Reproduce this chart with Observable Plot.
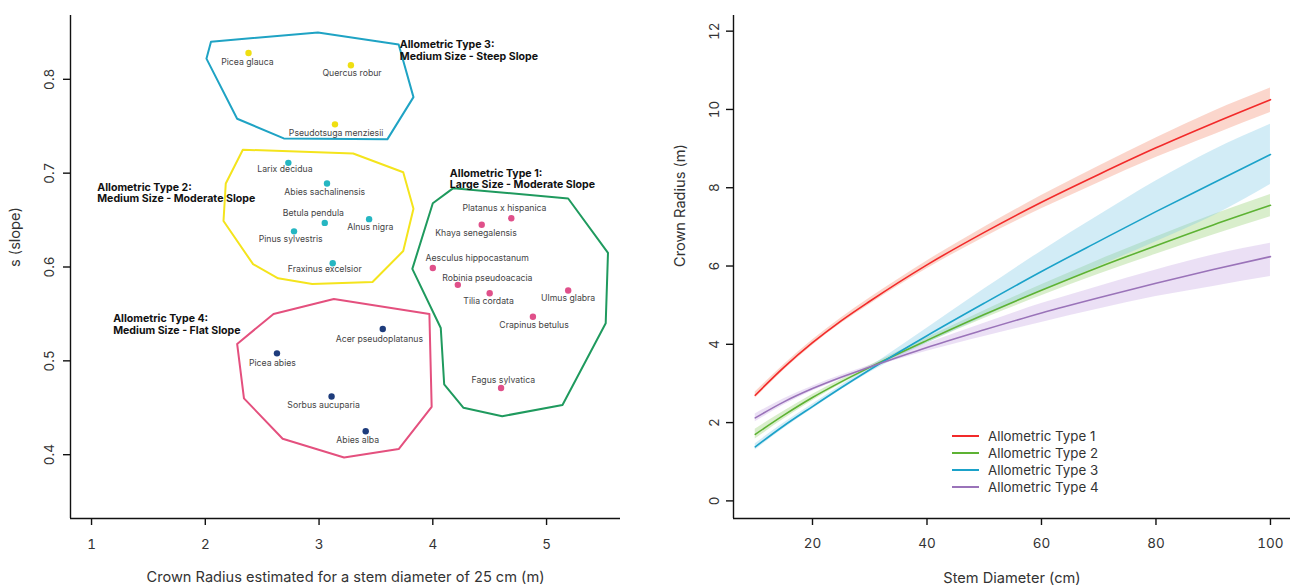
<!DOCTYPE html>
<html><head><meta charset="utf-8">
<script src="https://cdn.jsdelivr.net/npm/d3@7"></script>
<script src="https://cdn.jsdelivr.net/npm/@observablehq/plot@0.6"></script>
<style>
body{margin:0;background:#fff;font-family:Inter, "Liberation Sans", sans-serif;}
#wrap{position:relative;width:1292px;height:588px;display:flex;overflow:hidden;}
#legend{position:absolute;left:952px;top:427px;font-size:13.3px;color:#333;}
#legend .row{display:flex;align-items:center;height:17px;}
#legend svg{margin-right:9px;}
</style></head><body>
<div id="wrap"><div id="left"></div><div id="right"></div><div id="legend"></div></div>
<script>
// ---------- Left panel data ----------
const species = ["Picea glauca","Quercus robur","Pseudotsuga menziesii",
  "Larix decidua","Abies sachalinensis","Betula pendula","Alnus nigra","Pinus sylvestris","Fraxinus excelsior",
  "Platanus x hispanica","Khaya senegalensis","Aesculus hippocastanum","Robinia pseudoacacia","Tilia cordata","Ulmus glabra","Crapinus betulus","Fagus sylvatica",
  "Acer pseudoplatanus","Picea abies","Sorbus aucuparia","Abies alba"];
const speciesType = [3,3,3, 2,2,2,2,2,2, 1,1,1,1,1,1,1,1, 4,4,4,4];
const crown25 = [2.38,3.28,3.14, 2.73,3.07,3.05,3.44,2.78,3.12, 4.69,4.43,4.00,4.22,4.50,5.19,4.88,4.60, 3.56,2.63,3.11,3.41];
const slope   = [0.828,0.815,0.752, 0.711,0.689,0.647,0.651,0.638,0.604, 0.652,0.645,0.599,0.581,0.572,0.575,0.547,0.471, 0.534,0.508,0.462,0.425];
const labelCrown = [2.37,3.29,3.15, 2.70,3.05,2.95,3.45,2.75,3.05, 4.63,4.38,4.39,4.48,4.49,5.19,4.89,4.62, 3.53,2.59,3.04,3.34];
const labelSlope = [0.818,0.807,0.743, 0.704,0.680,0.657,0.642,0.630,0.598, 0.663,0.636,0.609,0.588,0.564,0.567,0.538,0.479, 0.523,0.498,0.453,0.415];

const hull1X = [4.00,4.18,5.19,5.54,5.52,5.14,4.61,4.27,4.10,4.07,3.82];
const hull1Y = [0.668,0.684,0.673,0.615,0.540,0.453,0.441,0.450,0.475,0.535,0.598];
const hull2X = [2.33,3.30,3.74,3.83,3.74,3.47,2.94,2.64,2.42,2.16,2.18];
const hull2Y = [0.725,0.721,0.701,0.662,0.617,0.584,0.582,0.588,0.603,0.649,0.689];
const hull3X = [2.05,2.99,3.70,3.83,3.60,2.69,2.28,2.01];
const hull3Y = [0.840,0.850,0.837,0.781,0.736,0.737,0.758,0.822];
const hull4X = [2.60,3.13,3.97,3.99,3.70,3.22,2.68,2.34,2.28];
const hull4Y = [0.550,0.566,0.550,0.451,0.406,0.397,0.417,0.460,0.518];

const groupTitles = ["Allometric Type 1:\nLarge Size - Moderate Slope","Allometric Type 2:\nMedium Size - Moderate Slope","Allometric Type 3:\nMedium Size - Steep Slope","Allometric Type 4:\nMedium Size - Flat Slope"];
const groupTitleX = [4.15,1.05,3.71,1.19];
const groupTitleY = [0.694,0.679,0.831,0.539];

const xTicksLeft = [1,2,3,4,5];
const yTicksLeft = [0.4,0.5,0.6,0.7,0.8];

// ---------- Right panel data ----------
const diameters = [10,15,20,25,30,40,50,60,70,80,90,100];
const type1Mean = [2.70,3.41,4.04,4.60,5.10,6.03,6.86,7.63,8.34,9.02,9.65,10.25];
const type1Lo   = [2.62,3.34,3.97,4.53,5.02,5.93,6.73,7.46,8.13,8.77,9.35,9.92];
const type1Hi   = [2.78,3.48,4.11,4.67,5.18,6.13,6.99,7.80,8.55,9.27,9.95,10.55];
const type2Mean = [1.70,2.19,2.64,3.04,3.41,4.10,4.76,5.38,5.97,6.52,7.05,7.55];
const type2Lo   = [1.58,2.09,2.56,2.98,3.36,4.03,4.66,5.24,5.79,6.30,6.79,7.26];
const type2Hi   = [1.83,2.29,2.72,3.10,3.46,4.17,4.86,5.52,6.15,6.74,7.31,7.83];
const type3Mean = [1.38,1.92,2.41,2.89,3.35,4.22,5.05,5.86,6.63,7.39,8.12,8.85];
const type3Lo   = [1.30,1.85,2.35,2.83,3.28,4.03,4.70,5.36,5.99,6.62,7.28,8.08];
const type3Hi   = [1.46,1.99,2.47,2.95,3.42,4.41,5.41,6.38,7.29,8.17,8.96,9.62];
const type4Mean = [2.12,2.53,2.87,3.16,3.42,3.92,4.37,4.80,5.19,5.56,5.91,6.24];
const type4Lo   = [2.02,2.45,2.81,3.11,3.38,3.82,4.20,4.56,4.90,5.22,5.48,5.73];
const type4Hi   = [2.22,2.61,2.93,3.21,3.46,4.02,4.54,5.04,5.48,5.90,6.28,6.58];

const typeNames = ["Allometric Type 1","Allometric Type 2","Allometric Type 3","Allometric Type 4"];
const xTicksRight = [20,40,60,80,100];
const yTicksRight = [0,2,4,6,8,10,12];

// ---------- styles ----------
const hullColors  = {1:"#1f9a5e", 2:"#f4e41c", 3:"#1fa3c4", 4:"#e4507e"};
const pointColors = {1:"#e0508a", 2:"#25b6c2", 3:"#efdf12", 4:"#1e3c7c"};
const lineColors  = ["#f22a2a","#5db233","#1ba2c9","#9a73b9"];
const bandColors  = ["#f48a6e","#93cf6e","#7ec8e6","#c6a5e2"];
const font = "Inter, 'Liberation Sans', sans-serif";

// ---------- build left ----------
const pts = species.map((s,i)=>({name:s, type:speciesType[i], x:crown25[i], y:slope[i], lx:labelCrown[i], ly:labelSlope[i]}));
const hulls = [[hull1X,hull1Y,1],[hull2X,hull2Y,2],[hull3X,hull3Y,3],[hull4X,hull4Y,4]]
  .flatMap(([xs,ys,t])=>xs.map((x,i)=>({type:t, x, y:ys[i]})));
const titles = groupTitles.map((t,i)=>({t, x:groupTitleX[i], y:groupTitleY[i]}));

const lxMin = 0.815, lxMax = 5.65, lyMin = 0.332, lyMax = 0.868;
const left = Plot.plot({
  width: 640, height: 588,
  marginLeft: 70, marginRight: 20, marginTop: 15, marginBottom: 70,
  style: {fontFamily: font, background: "white", color: "#333"},
  x: {domain: [lxMin, lxMax]},
  y: {domain: [lyMin, lyMax]},
  marks: [
    Plot.line(hulls, {x:"x", y:"y", z:"type", stroke: d=>hullColors[d.type], strokeWidth: 2, curve: "linear-closed"}),
    Plot.dot(pts, {x:"x", y:"y", r: 3.2, fill: d=>pointColors[d.type], stroke: "none"}),
    Plot.text(pts, {x:"lx", y:"ly", text:"name", fontSize: 8.7, fill: "#444"}),
    Plot.text(titles, {x:"x", y:"y", text:"t", textAnchor:"start", lineAnchor:"middle", fontSize: 10.6, fontWeight: "bold", fill:"#111", lineHeight: 1.1}),
    Plot.ruleX([lxMin], {stroke:"#111", strokeWidth: 1.4}),
    Plot.ruleY([lyMin], {stroke:"#111", strokeWidth: 1.4}),
    Plot.axisX({ticks: xTicksLeft, tickFormat: d3.format("d"), tickSize: 7, tickPadding: 14, fontSize: 13.5, strokeWidth: 1.4, stroke:"#111", label: null}),
    Plot.axisY({ticks: yTicksLeft, tickFormat: d3.format(".1f"), tickSize: 7, tickPadding: 10, tickRotate: -90, fontSize: 13.5, strokeWidth: 1.4, stroke:"#111", label: null}),
    Plot.text(["Crown Radius estimated for a stem diameter of 25 cm (m)"], {frameAnchor:"bottom", dy: 63, fontSize: 14.6, fill:"#333"}),
    Plot.text(["s (slope)"], {frameAnchor:"left", dx: -55, rotate: -90, fontSize: 14.6, fill:"#333"})
  ]
});
document.getElementById("left").appendChild(left);

// ---------- build right ----------
const means = [type1Mean,type2Mean,type3Mean,type4Mean];
const los = [type1Lo,type2Lo,type3Lo,type4Lo];
const his = [type1Hi,type2Hi,type3Hi,type4Hi];
const rows = typeNames.flatMap((n,k)=>diameters.map((d,i)=>({type:n, d, m:means[k][i], lo:los[k][i], hi:his[k][i]})));

const rxMin = 6.2, rxMax = 103.5, ryMin = -0.45, ryMax = 12.4;
const right = Plot.plot({
  width: 652, height: 588,
  marginLeft: 93, marginRight: 2, marginTop: 15, marginBottom: 70,
  style: {fontFamily: font, background: "white", color: "#333"},
  x: {domain: [rxMin, rxMax]},
  y: {domain: [ryMin, ryMax]},
  marks: [
    Plot.areaY(rows, {x:"d", y1:"lo", y2:"hi", z:"type", fill: d=>bandColors[typeNames.indexOf(d.type)], fillOpacity: 0.35, curve:"monotone-x"}),
    Plot.line(rows, {x:"d", y:"m", z:"type", stroke: d=>lineColors[typeNames.indexOf(d.type)], strokeWidth: 1.6, curve:"monotone-x"}),
    Plot.ruleX([rxMin], {stroke:"#111", strokeWidth: 1.4}),
    Plot.ruleY([ryMin], {stroke:"#111", strokeWidth: 1.4}),
    Plot.axisX({ticks: xTicksRight, tickSize: 7, tickPadding: 13, fontSize: 13.5, strokeWidth: 1.4, stroke:"#111", label: null}),
    Plot.axisY({ticks: yTicksRight, tickSize: 7, tickPadding: 8, tickRotate: -90, fontSize: 13.5, strokeWidth: 1.4, stroke:"#111", label: null}),
    Plot.text(["Stem Diameter (cm)"], {frameAnchor:"bottom", dy: 64, fontSize: 14.6, fill:"#333"}),
    Plot.text(["Crown Radius (m)"], {frameAnchor:"left", dx: -53, rotate: -90, fontSize: 14.6, fill:"#333"})
  ]
});
document.getElementById("right").appendChild(right);

// ---------- legend ----------
const leg = document.getElementById("legend");
typeNames.forEach((n,k)=>{
  const row = document.createElement("div");
  row.className = "row";
  row.innerHTML = `<svg width="27" height="4"><line x1="0" x2="27" y1="2" y2="2" stroke="${lineColors[k]}" stroke-width="2"/></svg><span>${n}</span>`;
  leg.appendChild(row);
});
</script>
</body></html>
